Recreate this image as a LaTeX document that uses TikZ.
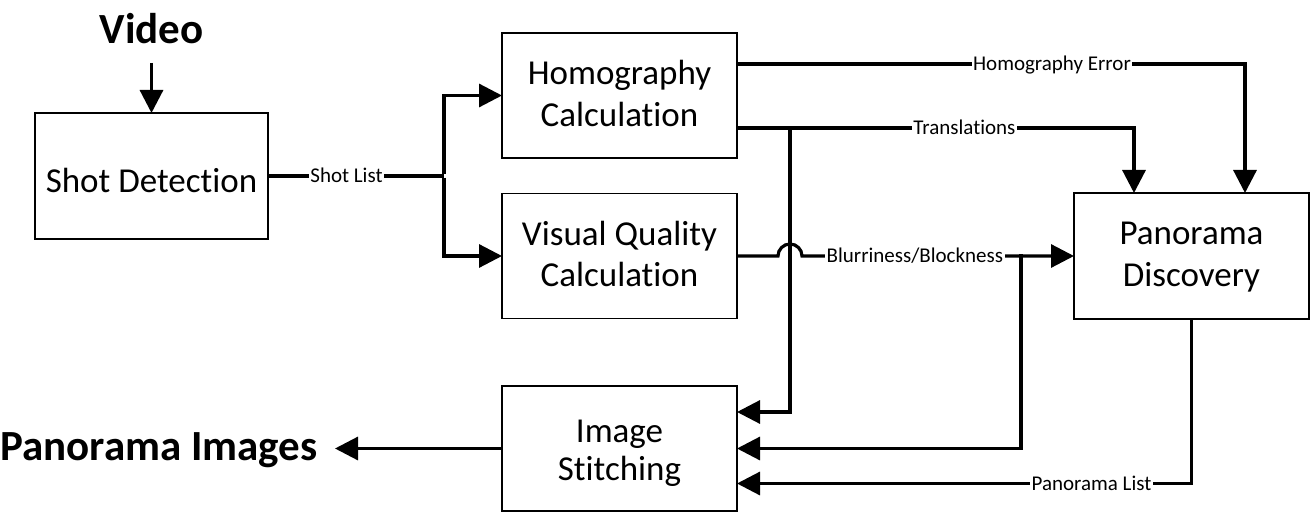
\documentclass[tikz,border=0pt]{standalone}
\usepackage{fontspec}
\setmainfont{Carlito}[Ligatures=NoCommon]
\usetikzlibrary{arrows.meta}
\begin{document}
\begin{tikzpicture}[x=1pt,y=-1pt,
  box/.style={draw=black,line width=1.3pt,inner sep=0pt,outer sep=0pt,minimum width=235pt,minimum height=125pt},
  btxt/.style={anchor=base,inner sep=0pt,font=\fontsize{35}{42}\selectfont},
  big/.style={inner sep=0pt,font=\bfseries\fontsize{43}{50}\selectfont},
  conn/.style={line width=3.2pt},
  arr/.style={conn,-{Triangle[length=23pt,width=23pt]}},
  lbl/.style={fill=white,inner sep=1.5pt,text height=13.5pt,text depth=0pt,font=\fontsize{21}{25}\selectfont}
]
\useasboundingbox (0,0) rectangle (1310,513);

% boxes
\node[box,minimum width=233pt,minimum height=126pt] (sd) at (151.5,176) {};
\node[box] (hom) at (619.5,95.5) {};
\node[box] (vq)  at (619.5,256) {};
\node[box,minimum height=126pt] (pd) at (1191.5,256) {};
\node[box] (is)  at (619.5,448.5) {};

% box texts
\node[btxt] (sdt) at ([yshift=-17pt]sd.center) {Shot Detection};
\node[btxt] (hom1) at ([yshift=10.5pt]hom.center) {Homography};
\node[btxt] (hom2) at ([yshift=-31.5pt]hom.center) {Calculation};
\node[btxt] (vq1) at ([yshift=10.5pt]vq.center) {Visual Quality};
\node[btxt] (vq2) at ([yshift=-31pt]vq.center) {Calculation};
\node[btxt] (pd1) at ([yshift=11pt]pd.center) {Panorama};
\node[btxt] (pd2) at ([yshift=-31pt]pd.center) {Discovery};
\node[btxt] (is1) at ([yshift=6pt]is.center) {Image};
\node[btxt] (is2) at ([yshift=-31.5pt]is.center) {Stitching};

% big labels
\node[big,anchor=base] (video) at (151.5,44) {Video};
\node[big,anchor=base west] (pimg) at (0,460) {Panorama Images};
\coordinate (pimgtip) at (335,448.5);

% junction coordinates
\coordinate (sj) at (444,176);
\coordinate (tj) at (790,128);
\coordinate (bj) at (1021,256);

% video input
\draw[arr] ([yshift=-19pt]video.base) -- (sd.north);

% shot list
\draw[conn] (sd.east) -- node[lbl,pos=0.446] (shl) {Shot List} (sj);
\draw[arr] ([yshift=1.6pt]sj) |- (hom.west);
\draw[arr] ([yshift=-1.6pt]sj) |- (vq.west);

% homography error
\draw[arr] ([yshift=31.5pt]hom.east) -| node[lbl,pos=0.31] (hel) {Homography Error} ([xshift=53.5pt]pd.north);
% translations
\draw[arr] ([yshift=-32.5pt]hom.east) -| node[lbl,pos=0.2865] (trl) {Translations} ([xshift=-57.5pt]pd.north);
\draw[arr] ([yshift=1.6pt]tj) |- ([yshift=36.5pt]is.east);

% blurriness with line jump
\draw[arr] (vq.east) -- (778,256) arc[start angle=180,end angle=0,radius=12pt]
  -- node[lbl,pos=0.415] (bll) {Blurriness/Blockness} (pd.west);
\draw[arr] ([yshift=1.6pt]bj) |- (is.east);

% panorama list
\draw[arr] (pd.south) |- node[lbl,pos=0.61] (pll) {Panorama List} ([yshift=-35pt]is.east);

% output
\draw[arr] (is.west) -- (pimgtip);
\end{tikzpicture}
\end{document}
